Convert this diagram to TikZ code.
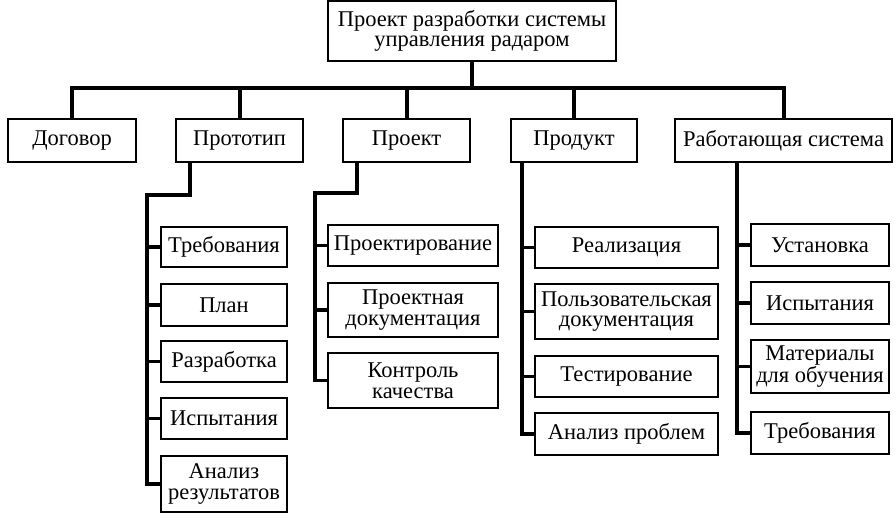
\documentclass[tikz,border=0pt]{standalone}
\usepackage{fontspec}
\setmainfont{Liberation Serif}
\begin{document}
\begin{tikzpicture}[x=1pt,y=-1pt,font=\fontsize{22.5}{20.5}\selectfont,
  box/.style={draw,line width=1.6pt,inner sep=0pt,align=center,minimum height=#1},
  box/.default=42,
  bus/.style={line width=4pt},
  link/.style={line width=3.5pt}]
  \useasboundingbox (0,0) rectangle (896,525);
  % root and first level
  \node[box=60,minimum width=288] (root) at (472,31) {Проект разработки системы\\управления радаром};
  \node[box=43,minimum width=128] (dog) at (72,140.5) {Договор};
  \node[box=43,minimum width=127] (proto) at (239.5,140.5) {Прототип};
  \node[box=43,minimum width=127] (proj) at (406.5,140.5) {Проект};
  \node[box=43,minimum width=126] (prod) at (574,140.5) {Продукт};
  \node[box=43,minimum width=217] (work) at (783.5,140.5) {Работающая система};

  \coordinate (bus) at (470,88);
  \draw[bus] (root.south) -- (root.south |- bus);
  \draw[bus] (dog.north) |- (bus) -| (work.north);
  \foreach \n in {proto,proj,prod}
    \draw[bus] (\n.north) -- (\n.north |- bus);

  % prototype
  \node[box=40,minimum width=126] (req1) at (224,247) {Требования};
  \node[box,minimum width=126] (plan) at (224,305) {План};
  \node[box=41,minimum width=126] (dev) at (224,361.5) {Разработка};
  \node[box=41,minimum width=126] (test1) at (224,418.5) {Испытания};
  \node[box=56,minimum width=126] (anal1) at (224,484) {Анализ\\результатов};
  \coordinate (s1) at (147,195);
  \draw[link] ([xshift=15]proto.south west) |- (s1) |- (anal1.west);
  \foreach \n in {req1,plan,dev,test1}
    \draw[link] (\n.west) -- (\n.west -| s1);

  % project
  \node[box=41,minimum width=170] (design) at (413,245.5) {Проектирование};
  \node[box=54,minimum width=170] (pdoc) at (413,310) {Проектная\\документация};
  \node[box=55,minimum width=170] (qc) at (413,380.5) {Контроль\\качества};
  \coordinate (s2) at (315,193);
  \draw[link] ([xshift=15]proj.south west) |- (s2) |- (qc.west);
  \foreach \n in {design,pdoc}
    \draw[link] (\n.west) -- (\n.west -| s2);

  % product
  \node[box=41,minimum width=183] (impl) at (626.5,247.5) {Реализация};
  \node[box=55,minimum width=183] (udoc) at (626.5,311.5) {Пользовательская\\документация};
  \node[box=41,minimum width=183] (testing) at (626.5,376.5) {Тестирование};
  \node[box,minimum width=183] (probl) at (626.5,434) {Анализ проблем};
  \coordinate (s3) at ([xshift=12]prod.south west);
  \draw[link] (s3) |- (probl.west);
  \foreach \n in {impl,udoc,testing}
    \draw[link] (\n.west) -- (\n.west -| s3);

  % working system
  \node[box,minimum width=138] (inst) at (820,245) {Установка};
  \node[box,minimum width=138] (test2) at (820,303) {Испытания};
  \node[box=53,minimum width=138] (mat) at (820,366.5) {Материалы\\для обучения};
  \node[box,minimum width=138] (req2) at (820,433) {Требования};
  \coordinate (s4) at ([xshift=63]work.south west);
  \draw[link] (s4) |- (req2.west);
  \foreach \n in {inst,test2,mat}
    \draw[link] (\n.west) -- (\n.west -| s4);
\end{tikzpicture}
\end{document}
